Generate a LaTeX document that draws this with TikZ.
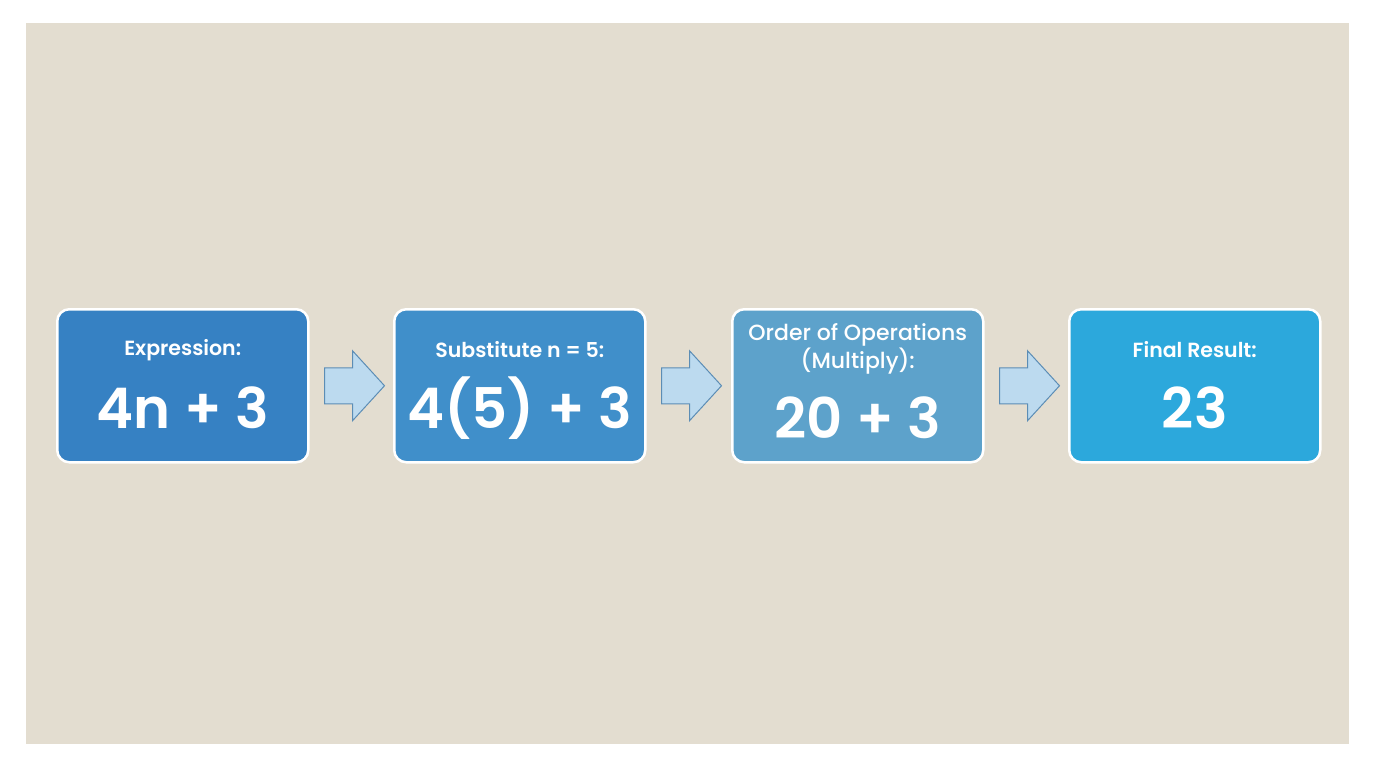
\documentclass[tikz,border=0pt]{standalone}
\usepackage{fontspec}
\setmainfont{Poppins}[BoldFont={Poppins SemiBold}]
\newfontfamily\medfont{Poppins Medium}
\usetikzlibrary{calc}
\definecolor{bgc}{HTML}{E3DDD0}
\definecolor{boxa}{HTML}{3681C3}
\definecolor{boxb}{HTML}{408FCA}
\definecolor{boxc}{HTML}{5DA2CB}
\definecolor{boxd}{HTML}{2CA8DC}
\definecolor{arrfill}{HTML}{BCDAEF}
\definecolor{arrline}{HTML}{5C8DB5}
\tikzset{
  stepbox/.style={rounded corners=12pt, draw=white, line width=2.5pt,
    minimum width=251pt, minimum height=153pt, anchor=north west, inner sep=0pt},
  lbl/.style={text=white, font=\fontsize{20.5}{24}\selectfont\bfseries, inner sep=0pt, align=center},
  lblreg/.style={text=white, font=\fontsize{22}{28}\selectfont\medfont, inner sep=0pt, align=center},
  big/.style={text=white, font=\fontsize{56}{60}\selectfont\bfseries, inner sep=0pt},
  blockarrow/.style={fill=arrfill, draw=arrline, line width=1pt, line join=miter}
}
\newcommand{\blockarr}[1]{%
  \draw[blockarrow] ($(#1)+(0,-18)$) -- ++(28,0) -- ++(0,-17) -- ++(32,35) -- ++(-32,35) -- ++(0,-17) -- ++(-28,0) -- cycle;}
\begin{document}
\begin{tikzpicture}[x=1pt,y=-1pt]
\useasboundingbox (0,0) rectangle (1376,768);
\fill[white] (0,0) rectangle (1376,768);
\fill[bgc] (26,23) rectangle (1349,744);

\node[stepbox, fill=boxa] (b1) at (56,308) {};
\node[stepbox, fill=boxb] (b2) at (393,308) {};
\node[stepbox, fill=boxc] (b3) at (731,308) {};
\node[stepbox, fill=boxd] (b4) at (1068,308) {};

\node[lbl] (l1) at ($(b1.north)+(0,42)$) {Expression:};
\node[big] (n1) at ($(b1.north)+(0,100)$) {4n + 3};

\node[lbl] (l2) at ($(b2.north)+(0,42)$) {Substitute n = 5:};
\node[big] (n2) at ($(b2.north)+(0,100)$) {4(5) + 3};

\node[lblreg] (l3) at ($(b3.north)+(0,41)$) {Order of Operations\\(Multiply):};
\node[big] (n3) at ($(b3.north)+(0,110)$) {20 + 3};

\node[lbl] (l4) at ($(b4.north)+(0,42)$) {Final Result:};
\node[big] (n4) at ($(b4.north)+(0,100)$) {23};

\coordinate (a1) at ($(b1.east)+(15,0)$);
\coordinate (a2) at ($(b2.east)+(15,0)$);
\coordinate (a3) at ($(b3.east)+(15,0)$);
\blockarr{a1}
\blockarr{a2}
\blockarr{a3}
\end{tikzpicture}
\end{document}
